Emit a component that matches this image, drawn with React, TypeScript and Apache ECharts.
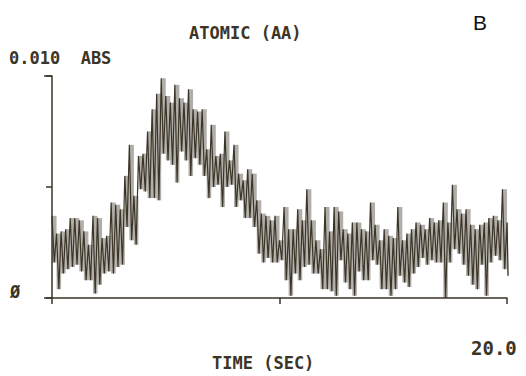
import React, { useEffect, useRef } from "react";
import * as echarts from "echarts";

// Time of each 0.2 s bin (sec)
const timeSec = [
  0.0, 0.2, 0.4, 0.6, 0.8, 1.0, 1.2, 1.4, 1.6, 1.8,
  2.0, 2.2, 2.4, 2.6, 2.8, 3.0, 3.2, 3.4, 3.6, 3.8,
  4.0, 4.2, 4.4, 4.6, 4.8, 5.0, 5.2, 5.4, 5.6, 5.8,
  6.0, 6.2, 6.4, 6.6, 6.8, 7.0, 7.2, 7.4, 7.6, 7.8,
  8.0, 8.2, 8.4, 8.6, 8.8, 9.0, 9.2, 9.4, 9.6, 9.8,
  10.0, 10.2, 10.4, 10.6, 10.8, 11.0, 11.2, 11.4, 11.6, 11.8,
  12.0, 12.2, 12.4, 12.6, 12.8, 13.0, 13.2, 13.4, 13.6, 13.8,
  14.0, 14.2, 14.4, 14.6, 14.8, 15.0, 15.2, 15.4, 15.6, 15.8,
  16.0, 16.2, 16.4, 16.6, 16.8, 17.0, 17.2, 17.4, 17.6, 17.8,
  18.0, 18.2, 18.4, 18.6, 18.8, 19.0, 19.2, 19.4, 19.6, 19.8,
  20.0,
];

// Highest absorbance reached in each bin (ABS)
const absHigh = [
  0.0037, 0.0029, 0.0030, 0.0031, 0.0036, 0.0036, 0.0035, 0.0030, 0.0024, 0.0037,
  0.0036, 0.0027, 0.0028, 0.0043, 0.0042, 0.0040, 0.0055, 0.0069, 0.0046, 0.0064,
  0.0065, 0.0075, 0.0085, 0.0092, 0.0099, 0.0091, 0.0088, 0.0096, 0.0090, 0.0088,
  0.0094, 0.0085, 0.0084, 0.0085, 0.0067, 0.0078, 0.0064, 0.0065, 0.0075, 0.0062,
  0.0069, 0.0056, 0.0053, 0.0058, 0.0056, 0.0044, 0.0038, 0.0037, 0.0035, 0.0037,
  0.0026, 0.0041, 0.0031, 0.0031, 0.0040, 0.0035, 0.0049, 0.0035, 0.0026, 0.0022,
  0.0041, 0.0030, 0.0041, 0.0039, 0.0031, 0.0029, 0.0034, 0.0034, 0.0031, 0.0030,
  0.0043, 0.0033, 0.0026, 0.0031, 0.0028, 0.0027, 0.0041, 0.0026, 0.0029, 0.0031,
  0.0034, 0.0033, 0.0031, 0.0036, 0.0034, 0.0035, 0.0043, 0.0034, 0.0051, 0.0040,
  0.0038, 0.0040, 0.0033, 0.0031, 0.0033, 0.0034, 0.0036, 0.0037, 0.0035, 0.0049,
  0.0034,
];

// Lowest absorbance reached in each bin (ABS)
const absLow = [
  0.0016, 0.0004, 0.0011, 0.0013, 0.0014, 0.0015, 0.0012, 0.0008, 0.0008, 0.0002,
  0.0006, 0.0011, 0.0012, 0.0011, 0.0014, 0.0015, 0.0032, 0.0026, 0.0024, 0.0049,
  0.0048, 0.0045, 0.0045, 0.0044, 0.0065, 0.0062, 0.0060, 0.0052, 0.0066, 0.0062,
  0.0055, 0.0063, 0.0060, 0.0055, 0.0045, 0.0050, 0.0051, 0.0041, 0.0050, 0.0051,
  0.0041, 0.0044, 0.0036, 0.0036, 0.0032, 0.0020, 0.0016, 0.0018, 0.0016, 0.0016,
  0.0017, 0.0008, 0.0001, 0.0011, 0.0008, 0.0014, 0.0015, 0.0011, 0.0011, 0.0004,
  0.0004, 0.0003, 0.0001, 0.0017, 0.0007, 0.0004, 0.0001, 0.0012, 0.0008, 0.0008,
  0.0017, 0.0015, 0.0004, 0.0004, 0.0001, 0.0004, 0.0010, 0.0007, 0.0005, 0.0011,
  0.0014, 0.0018, 0.0015, 0.0017, 0.0016, 0.0016, 0.0000, 0.0016, 0.0022, 0.0020,
  0.0015, 0.0010, 0.0006, 0.0004, 0.0015, 0.0001, 0.0016, 0.0019, 0.0017, 0.0013,
  0.0010,
];

const binWidthSec = 0.2;

const title = "ATOMIC (AA)";
const yTopLabel = "0.010  ABS";
const yZeroLabel = "Ø";
const xEndLabel = "20.0";
const xTitle = "TIME (SEC)";
const panelLetter = "B";

const INK = "#3b3527";
const MONO = "'DejaVu Sans Mono', 'Liberation Mono', monospace";

export default function App() {
  const ref = useRef<HTMLDivElement>(null);

  useEffect(() => {
    if (!ref.current) return;
    const chart = echarts.init(ref.current, undefined, { renderer: "svg" });

    const trace: number[][] = [];
    for (let i = 0; i < timeSec.length; i++) {
      trace.push([timeSec[i], absHigh[i]]);
      trace.push([Math.min(timeSec[i] + 0.1, 20.05), absLow[i]]);
    }
    const bands = timeSec.map((t, i) => [t, absLow[i], absHigh[i]]);

    chart.setOption({
      animation: false,
      backgroundColor: "#ffffff",
      grid: { left: 52, top: 76, right: 19, bottom: 78, containLabel: false },
      xAxis: {
        type: "value",
        min: 0,
        max: 20,
        interval: 10,
        axisLine: { show: true, lineStyle: { color: INK, width: 1.5 } },
        axisTick: { show: true, inside: false, length: 6, lineStyle: { color: INK, width: 1.5 } },
        axisLabel: { show: false },
        splitLine: { show: false },
      },
      yAxis: {
        type: "value",
        min: 0,
        max: 0.01,
        interval: 0.005,
        axisLine: { show: true, lineStyle: { color: INK, width: 1.5 } },
        axisTick: { show: true, inside: false, length: 6, lineStyle: { color: INK, width: 1.5 } },
        axisLabel: { show: false },
        splitLine: { show: false },
      },
      series: [
        {
          type: "custom",
          data: bands,
          encode: { x: 0, y: [1, 2] },
          clip: false,
          z: 1,
          renderItem: (params: any, api: any) => {
            const t = api.value(0);
            const lo = api.value(1);
            const hi = api.value(2);
            const p1 = api.coord([t, hi]);
            const p2 = api.coord([Math.min(t + binWidthSec, 20.05), lo]);
            return {
              type: "rect",
              shape: { x: p1[0], y: p1[1], width: p2[0] - p1[0], height: p2[1] - p1[1] },
              style: { fill: INK, opacity: 0.4 },
            };
          },
        },
        {
          type: "line",
          data: trace,
          showSymbol: false,
          clip: false,
          lineStyle: { color: INK, width: 1.2 },
          z: 3,
        },
      ],
      graphic: [
        {
          type: "text",
          left: 189,
          top: 24,
          style: { text: title, font: `bold 17px ${MONO}`, fill: INK },
        },
        {
          type: "text",
          left: 473,
          top: 12,
          style: { text: panelLetter, font: "21px 'Liberation Sans', Arial, sans-serif", fill: "#111" },
        },
        {
          type: "text",
          left: 9,
          top: 49,
          style: { text: yTopLabel, font: `bold 17px ${MONO}`, fill: INK },
        },
        {
          type: "text",
          left: 10,
          top: 283,
          style: { text: yZeroLabel, font: `bold 17px ${MONO}`, fill: INK },
        },
        {
          type: "text",
          left: 471,
          top: 338,
          style: { text: xEndLabel, font: `bold 19px ${MONO}`, fill: INK },
        },
        {
          type: "text",
          left: 212,
          top: 354,
          style: { text: xTitle, font: `bold 17px ${MONO}`, fill: INK },
        },
        {
          type: "line",
          shape: { x1: 44, y1: 76, x2: 52, y2: 76 },
          style: { stroke: INK, lineWidth: 1.5 },
        },
        {
          type: "line",
          shape: { x1: 44, y1: 298, x2: 52, y2: 298 },
          style: { stroke: INK, lineWidth: 1.5 },
        },
      ],
    });

    return () => chart.dispose();
  }, []);

  return (
    <div
      ref={ref}
      style={{ position: "fixed", left: 0, top: 0, width: 526, height: 376 }}
    />
  );
}
